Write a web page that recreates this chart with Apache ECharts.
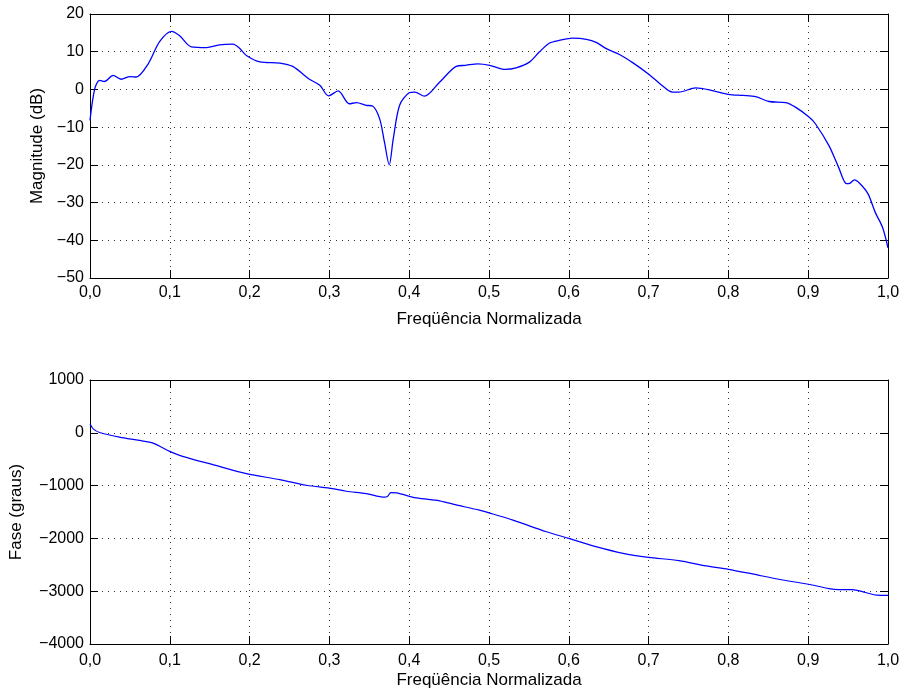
<!DOCTYPE html>
<html>
<head>
<meta charset="utf-8">
<script src="https://cdn.jsdelivr.net/npm/echarts@6/dist/echarts.min.js"></script>
<style>
html,body{margin:0;padding:0;background:#fff;}
#chart{width:903px;height:690px;}
</style>
</head>
<body>
<div id="chart"></div>
<script>
// ---- data ----
var freqMag = [0, 0.006, 0.012, 0.018, 0.029, 0.039, 0.05, 0.058, 0.073, 0.087, 0.102, 0.112, 0.127, 0.146, 0.162, 0.179, 0.187, 0.196, 0.213, 0.238, 0.254, 0.275, 0.288, 0.299, 0.311, 0.325, 0.334, 0.346, 0.354, 0.363, 0.369, 0.375, 0.380, 0.388, 0.400, 0.407, 0.419, 0.438, 0.459, 0.471, 0.486, 0.501, 0.520, 0.534, 0.551, 0.563, 0.576, 0.588, 0.605, 0.622, 0.635, 0.647, 0.664, 0.680, 0.701, 0.716, 0.730, 0.738, 0.759, 0.780, 0.800, 0.818, 0.834, 0.851, 0.872, 0.884, 0.901, 0.909, 0.926, 0.938, 0.948, 0.952, 0.958, 0.965, 0.975, 0.984, 0.993, 1.0];
var magDb = [-8.2, 0.2, 2.4, 2.1, 3.7, 2.7, 3.4, 3.3, 6.8, 12.6, 15.4, 14.3, 11.3, 11.1, 11.8, 12.0, 11.0, 9.0, 7.3, 7.0, 6.1, 2.7, 1.1, -1.7, -0.4, -3.8, -3.5, -4.2, -4.4, -7.8, -14.0, -20.0, -13.1, -4.2, -0.9, -0.7, -1.8, 1.9, 6.1, 6.4, 6.8, 6.4, 5.3, 5.7, 7.3, 9.9, 12.3, 13.0, 13.6, 13.3, 12.4, 10.8, 9.2, 7.1, 3.9, 1.2, -0.7, -0.7, 0.4, -0.3, -1.3, -1.6, -1.9, -3.2, -3.5, -4.7, -7.3, -9.1, -14.9, -20.6, -25.0, -24.9, -24.0, -25.0, -27.7, -32.6, -36.5, -42.0];
var freqPhase = [0, 0.004, 0.012, 0.037, 0.062, 0.079, 0.1, 0.116, 0.154, 0.196, 0.238, 0.271, 0.304, 0.321, 0.346, 0.369, 0.373, 0.377, 0.384, 0.409, 0.438, 0.459, 0.488, 0.5, 0.53, 0.572, 0.6, 0.634, 0.668, 0.7, 0.738, 0.772, 0.8, 0.83, 0.863, 0.9, 0.926, 0.938, 0.955, 0.972, 0.986, 1.0];
var phaseDeg = [170, 75, 6, -82, -145, -195, -352, -447, -604, -774, -887, -994, -1057, -1107, -1151, -1220, -1201, -1132, -1138, -1233, -1289, -1365, -1465, -1516, -1654, -1874, -2000, -2157, -2283, -2358, -2421, -2522, -2585, -2673, -2774, -2868, -2950, -2969, -2969, -3025, -3075, -3080];
var xLabel = 'Freqüência Normalizada';
var magLabel = 'Magnitude (dB)';
var phaseLabel = 'Fase (graus)';

// ---- chart ----
var FONT = '"Liberation Sans", Arial, Helvetica, sans-serif';
var chart = echarts.init(document.getElementById('chart'), null, {renderer: 'canvas'});
function zip(a, b) { return a.map(function (v, i) { return [v, b[i]]; }); }
function fmtX(v) { return v.toFixed(1).replace('.', ','); }
function fmtY(v) { return String(v).replace('-', '\u2212'); }
var lineAx = {show: true, onZero: false, lineStyle: {color: '#000', width: 1}};
var tickAx = {show: true, inside: true, length: 8, lineStyle: {color: '#000', width: 1}};
var gridLine = {show: true, lineStyle: {color: '#333', width: 1, type: [1, 5]}};

function xMain(gi, gap, nameGap) {
  return {type: 'value', gridIndex: gi, position: 'bottom', min: 0, max: 1, interval: 0.1,
    name: xLabel, nameLocation: 'middle', nameGap: nameGap,
    nameTextStyle: {fontFamily: FONT, fontSize: 17, color: '#000'},
    axisLine: lineAx, axisTick: tickAx, splitLine: gridLine,
    axisLabel: {formatter: fmtX, fontFamily: FONT, fontSize: 16, color: '#000', margin: gap}};
}
function xTop(gi) {
  return {type: 'value', gridIndex: gi, position: 'top', min: 0, max: 1, interval: 0.1,
    axisLine: lineAx, axisTick: tickAx, splitLine: {show: false}, axisLabel: {show: false}};
}
function yMain(gi, min, max, interval, name, nameGap) {
  return {type: 'value', gridIndex: gi, position: 'left', min: min, max: max, interval: interval,
    name: name, nameLocation: 'middle', nameGap: nameGap, nameRotate: 90,
    nameTextStyle: {fontFamily: FONT, fontSize: 17, color: '#000'},
    axisLine: lineAx, axisTick: tickAx, splitLine: gridLine,
    axisLabel: {formatter: fmtY, fontFamily: FONT, fontSize: 16, color: '#000', margin: 6}};
}
function yRight(gi, min, max, interval) {
  return {type: 'value', gridIndex: gi, position: 'right', min: min, max: max, interval: interval,
    axisLine: lineAx, axisTick: tickAx, splitLine: {show: false}, axisLabel: {show: false}};
}

chart.setOption({
  animation: false,
  backgroundColor: '#fff',
  grid: [
    {left: 90, top: 14, width: 798, height: 264, containLabel: false},
    {left: 90, top: 380, width: 798, height: 264, containLabel: false}
  ],
  xAxis: [xMain(0, 7, 33), xTop(0), xMain(1, 9, 28), xTop(1)],
  yAxis: [yMain(0, -50, 20, 10, magLabel, 44), yRight(0, -50, 20, 10),
          yMain(1, -4000, 1000, 1000, phaseLabel, 65), yRight(1, -4000, 1000, 1000)],
  series: [
    {type: 'line', xAxisIndex: 0, yAxisIndex: 0, data: zip(freqMag, magDb), showSymbol: false,
     smooth: 0.3, lineStyle: {color: '#0000ff', width: 1.3}},
    {type: 'line', xAxisIndex: 2, yAxisIndex: 2, data: zip(freqPhase, phaseDeg), showSymbol: false,
     smooth: 0.3, lineStyle: {color: '#0000ff', width: 1.2}}
  ]
});
</script>
</body>
</html>
